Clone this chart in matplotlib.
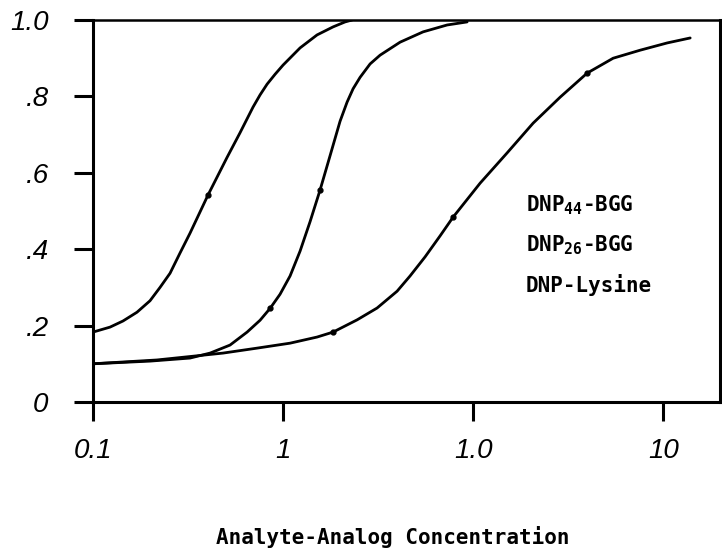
import matplotlib
matplotlib.use('Agg')
import matplotlib.pyplot as plt

# concentrations, response on the y axis
dnp44_x = [0.1, 0.1229, 0.1438, 0.1704, 0.1995, 0.2253, 0.2543, 0.287, 0.324, 0.403, 0.507, 0.594,
           0.695, 0.757, 0.824, 0.908, 1.0, 1.229, 1.51, 1.833, 2.12, 2.308]
dnp44_y = [0.183, 0.196, 0.212, 0.235, 0.265, 0.30, 0.337, 0.39, 0.442, 0.542, 0.64, 0.705,
           0.772, 0.804, 0.832, 0.858, 0.882, 0.927, 0.961, 0.982, 0.995, 1.0]

dnp26_x = [0.1, 0.1995, 0.324, 0.413, 0.526, 0.647, 0.757, 0.8545, 0.964, 1.089, 1.229, 1.387,
           1.566, 1.768, 1.995, 2.172, 2.336, 2.543, 2.87, 3.24, 4.129, 5.456, 7.299, 9.299]
dnp26_y = [0.10, 0.107, 0.115, 0.128, 0.149, 0.183, 0.214, 0.245, 0.282, 0.33, 0.395, 0.472,
           0.555, 0.645, 0.735, 0.785, 0.82, 0.85, 0.885, 0.908, 0.942, 0.969, 0.987, 0.995]

lysine_x = [0.1, 0.2172, 0.483, 0.73, 1.089, 1.51, 1.833, 2.452, 3.124, 3.981, 4.66, 5.589,
            6.705, 7.848, 10.89, 15.09, 20.69, 28.7, 39.81, 54.56, 75.67, 105.0, 138.7]
lysine_y = [0.10, 0.110, 0.128, 0.141, 0.154, 0.170, 0.183, 0.215, 0.246, 0.29, 0.33, 0.38,
            0.435, 0.484, 0.573, 0.652, 0.73, 0.798, 0.861, 0.90, 0.921, 0.94, 0.953]

x_ticks = [0.1, 1, 10, 100]
x_tick_labels = ['0.1', '1', '1.0', '10']
y_ticks = [0, 0.2, 0.4, 0.6, 0.8, 1.0]
y_tick_labels = ['0', '.2', '.4', '.6', '.8', '1.0']
legend_labels = ['DNP$_{\\mathrm{44}}$-BGG', 'DNP$_{\\mathrm{26}}$-BGG', 'DNP-Lysine']

label_font = 'DejaVu Sans Mono'
plt.rcParams['mathtext.fontset'] = 'custom'
plt.rcParams['mathtext.rm'] = label_font + ':bold'
plt.rcParams['mathtext.bf'] = label_font + ':bold'

fig = plt.figure(figsize=(7.22, 5.56), dpi=100)
ax = fig.add_axes([0.1288, 0.277, 0.8684, 0.687])

lw = 2.0
style = dict(color='black', lw=lw, marker='o', ms=3.5, solid_joinstyle='round', solid_capstyle='round')
ax.plot(dnp44_x, dnp44_y, markevery=[9], **style)
ax.plot(dnp26_x, dnp26_y, markevery=[7, 12], **style)
ax.plot(lysine_x, lysine_y, markevery=[6, 13, 18], **style)

ax.set_xscale('log')
ax.set_xlim(0.1, 199)
ax.set_ylim(0, 1.0)
ax.minorticks_off()

ax.set_xticks(x_ticks)
ax.set_xticklabels(x_tick_labels, fontsize=20, fontstyle='italic', family='Liberation Sans')
ax.set_yticks(y_ticks)
ax.set_yticklabels(y_tick_labels, fontsize=20, fontstyle='italic', family='Liberation Sans')
ax.tick_params(axis='both', direction='out', length=14, width=2.2, color='black')
ax.tick_params(axis='x', pad=12)
ax.tick_params(axis='y', pad=18)

for s in ax.spines.values():
    s.set_linewidth(2.2)
ax.spines['top'].set_linewidth(1.8)

for i, lab in enumerate(legend_labels):
    ax.text(0.69, 0.515 - i * 0.104, lab, transform=ax.transAxes, fontsize=15,
            family=label_font, fontweight='bold', va='center', ha='left')

fig.text(0.544, 0.034, 'Analyte-Analog Concentration', fontsize=15, family=label_font,
         fontweight='bold', ha='center', va='center')

plt.savefig('out.png', dpi=100)
